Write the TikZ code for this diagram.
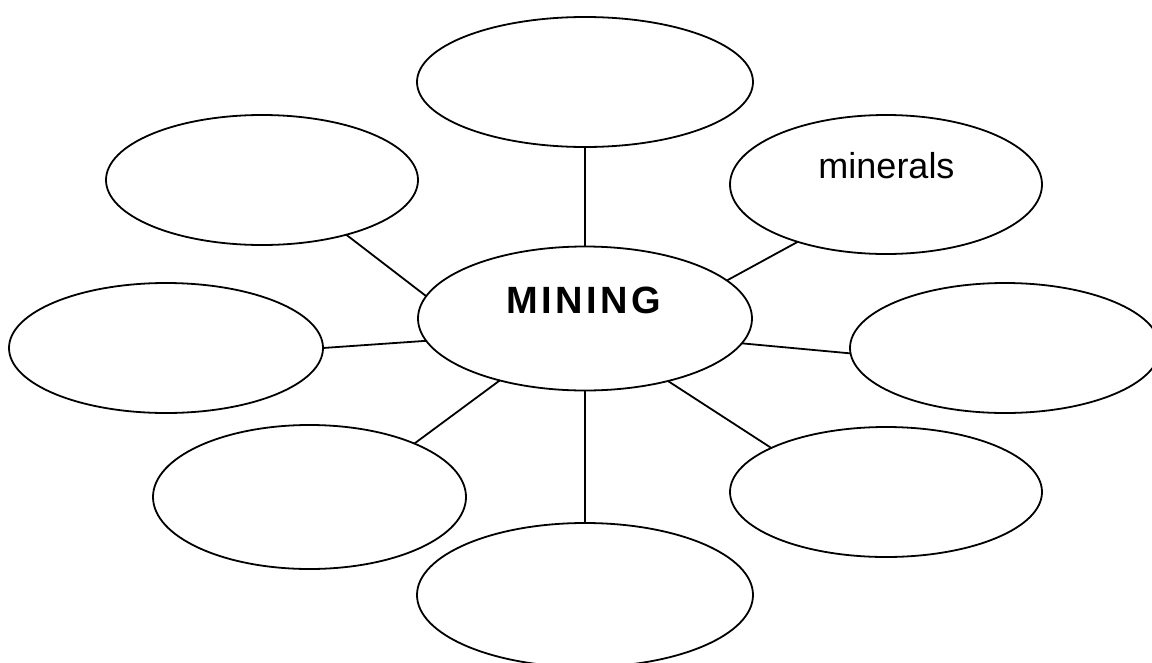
\documentclass[tikz,border=0pt]{standalone}
\usepackage{fontspec}
\setmainfont{Liberation Sans}
\usetikzlibrary{shapes.geometric}
\tikzset{
  bubble/.style={ellipse, draw=black, line width=1.8pt, inner sep=0pt, outer sep=0pt},
  link/.style={draw=black, line width=1.8pt},
  txt/.style={inner sep=0pt, outer sep=0pt, anchor=base}
}
\begin{document}
\begin{tikzpicture}[x=1pt,y=-1pt]
\useasboundingbox (0,0) rectangle (1152,662);
% ellipses
\node[bubble, minimum width=334pt, minimum height=144pt] (mining) at (585,318.5) {};
\node[bubble, minimum width=336pt, minimum height=130pt] (top) at (585,82) {};
\node[bubble, minimum width=312pt, minimum height=130pt] (tl) at (262,180) {};
\node[bubble, minimum width=312pt, minimum height=139pt] (minerals) at (886,184.5) {};
\node[bubble, minimum width=314pt, minimum height=130pt] (left) at (166,348) {};
\node[bubble, minimum width=310pt, minimum height=130pt] (right) at (1005,348) {};
\node[bubble, minimum width=313pt, minimum height=144pt] (bl) at (309.5,497) {};
\node[bubble, minimum width=312pt, minimum height=130pt] (br) at (886,492) {};
\node[bubble, minimum width=336pt, minimum height=144pt] (bottom) at (585,595) {};
% texts
\node[txt] (tmining) at (584,313) {\fontsize{38}{42}\selectfont\addfontfeature{LetterSpace=9}\bfseries MINING};
\node[txt] (tminerals) at (886.5,178) {\fontsize{36}{40}\selectfont minerals};
% connectors
\draw[link] (mining.90) -- (top.270);
\draw[link] (mining.172) -- (tl.-33);
\draw[link] (mining.15) -- (minerals.213);
\draw[link] (mining.188.6) -- (left.-0.4);
\draw[link] (mining.-9) -- (right.182);
\draw[link] (mining.216) -- (bl.27.4);
\draw[link] (mining.323) -- (br.159.8);
\draw[link] (mining.270) -- (bottom.90);
\end{tikzpicture}
\end{document}
